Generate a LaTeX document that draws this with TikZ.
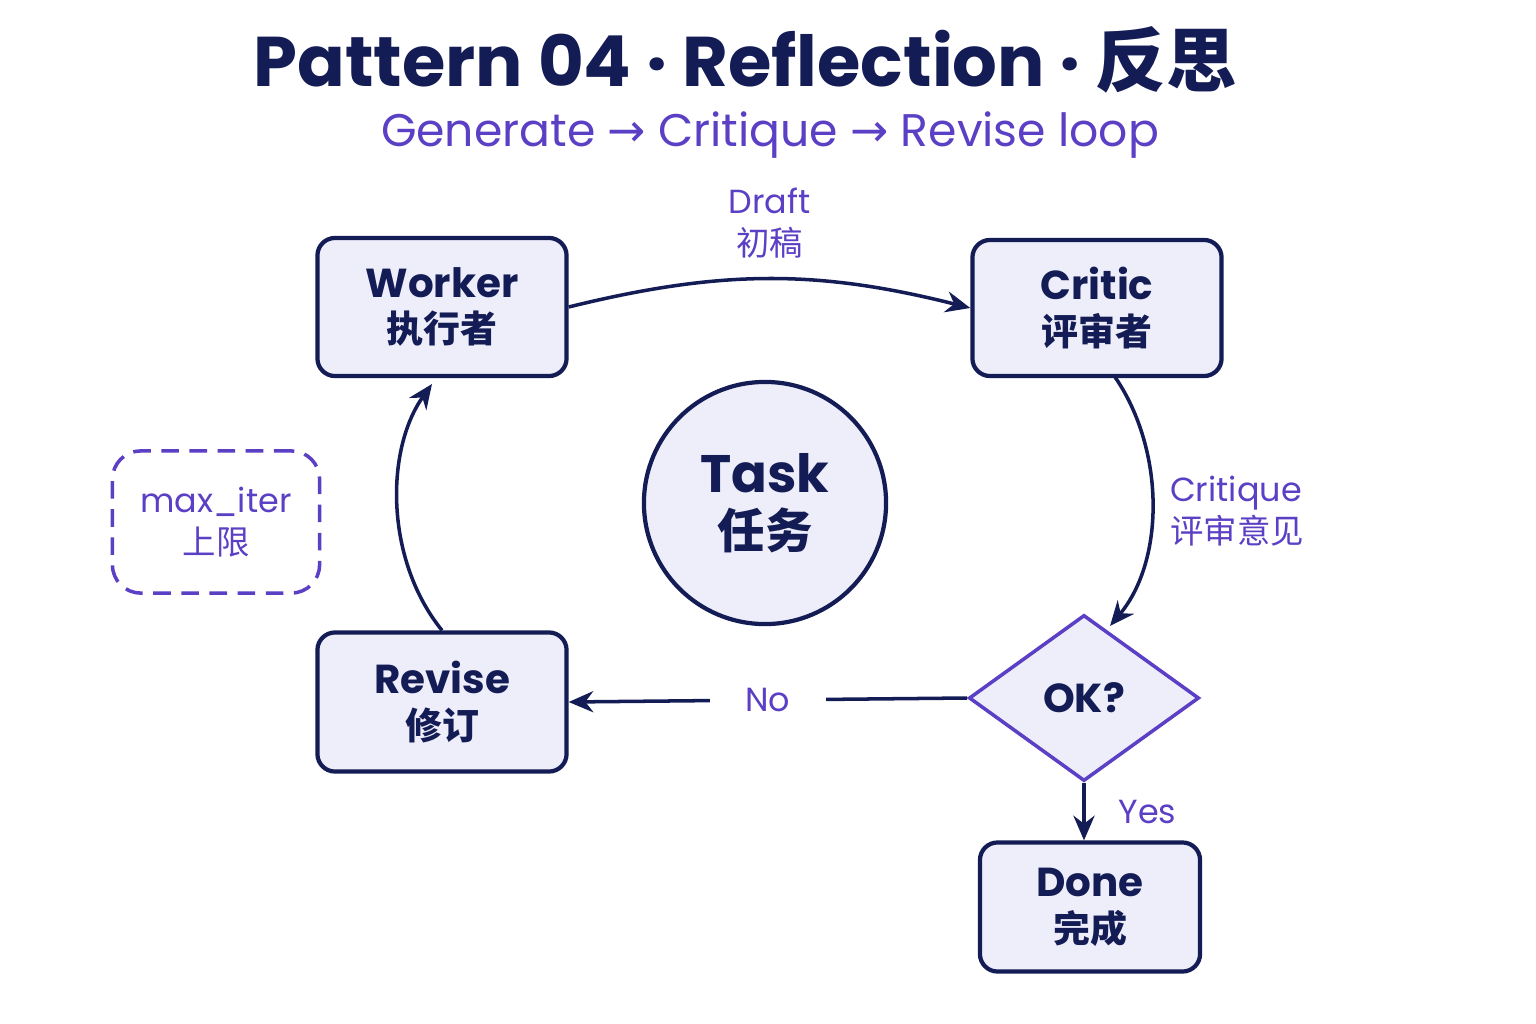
\documentclass[tikz,border=0pt]{standalone}
\usepackage{fontspec}
\setmainfont{Poppins}
\newfontfamily\cjk{Noto Sans CJK SC}
\newfontfamily\symb{DejaVu Sans}
\usetikzlibrary{shapes.geometric, arrows.meta, positioning}
\definecolor{navy}{HTML}{141C55}
\definecolor{violet}{HTML}{5B3FC4}
\definecolor{lav}{HTML}{EEEEFB}
\tikzset{
    box/.style={draw=navy, line width=1.2pt, fill=lav, rounded corners=5pt,
        align=center, text=navy, font=\fontsize{11.5}{14}\selectfont\bfseries},
    flow/.style={draw=navy, line width=1pt, -{Stealth[length=7pt,width=6pt]}},
    lbl/.style={text=violet, align=center, font=\fontsize{9.5}{12}\selectfont},
}
\begin{document}
\begin{tikzpicture}[x=0.01cm, y=-0.01cm]
    \useasboundingbox (0,0) rectangle (1536,1024);
    % title
    \node[text=navy, font=\fontsize{20}{24}\selectfont\bfseries] (title) at (745,60)
        {Pattern 04 · Reflection · {\cjk 反思}};
    \node[text=violet, font=\fontsize{13}{16}\selectfont] (subtitle) at (770,135)
        {Generate {\symb →} Critique {\symb →} Revise loop};
    % nodes
    \node[box, minimum width=2.49cm, minimum height=1.38cm] (worker) at (442,307)
        {Worker\\[-1pt]{\cjk\fontsize{10.5}{13}\selectfont 执行者}};
    \node[box, minimum width=2.49cm, minimum height=1.36cm] (critic) at (1097,308)
        {Critic\\[-1pt]{\cjk\fontsize{10.5}{13}\selectfont 评审者}};
    \node[box, minimum width=2.49cm, minimum height=1.39cm] (revise) at (442,702)
        {Revise\\[-1pt]{\cjk\fontsize{10.5}{13}\selectfont 修订}};
    \node[box, minimum width=2.2cm, minimum height=1.29cm] (done) at (1090,907)
        {Done\\[-1pt]{\cjk\fontsize{10.5}{13}\selectfont 完成}};
    \node[box, circle, minimum size=2.42cm, font=\fontsize{15}{18}\selectfont\bfseries] (task) at (765,503)
        {Task\\[-2pt]{\cjk\fontsize{13.5}{16}\selectfont 任务}};
    \node[diamond, draw=violet, line width=1pt, fill=lav, aspect=1.4, minimum width=2.3cm,
        minimum height=1.66cm, inner sep=0pt, text=navy, font=\fontsize{11.5}{14}\selectfont\bfseries]
        (ok) at (1084,698) {OK?};
    \node[draw=violet, line width=1pt, dash pattern=on 5pt off 3pt, rounded corners=8pt,
        minimum width=2.07cm, minimum height=1.42cm, lbl] (maxiter) at (216,522)
        {max\_iter\\{\cjk 上限}};
    % connectors
    \draw[flow] (worker.east) to[bend left=14] node[lbl, above=2pt] {Draft\\{\cjk 初稿}} (critic.west);
    \coordinate (cs) at (1115,377);
    \coordinate (ot) at (1110,626);
    \coordinate (ws) at (432,384);
    \draw[flow] (cs) .. controls (1165,450) and (1165,560) .. (ot);
    \node[lbl, align=left] (critlbl) at (1237,511) {Critique\\{\cjk 评审意见}};
    \draw[flow] (ok.west) -- node[lbl, fill=white, inner xsep=10pt] {No} (revise.east);
    \draw[flow] (ok.south) -- node[lbl, right=6pt] {Yes} (ok.south |- done.north);
    \draw[flow] (revise.north) .. controls (385,560) and (385,450) .. (ws);
\end{tikzpicture}
\end{document}
